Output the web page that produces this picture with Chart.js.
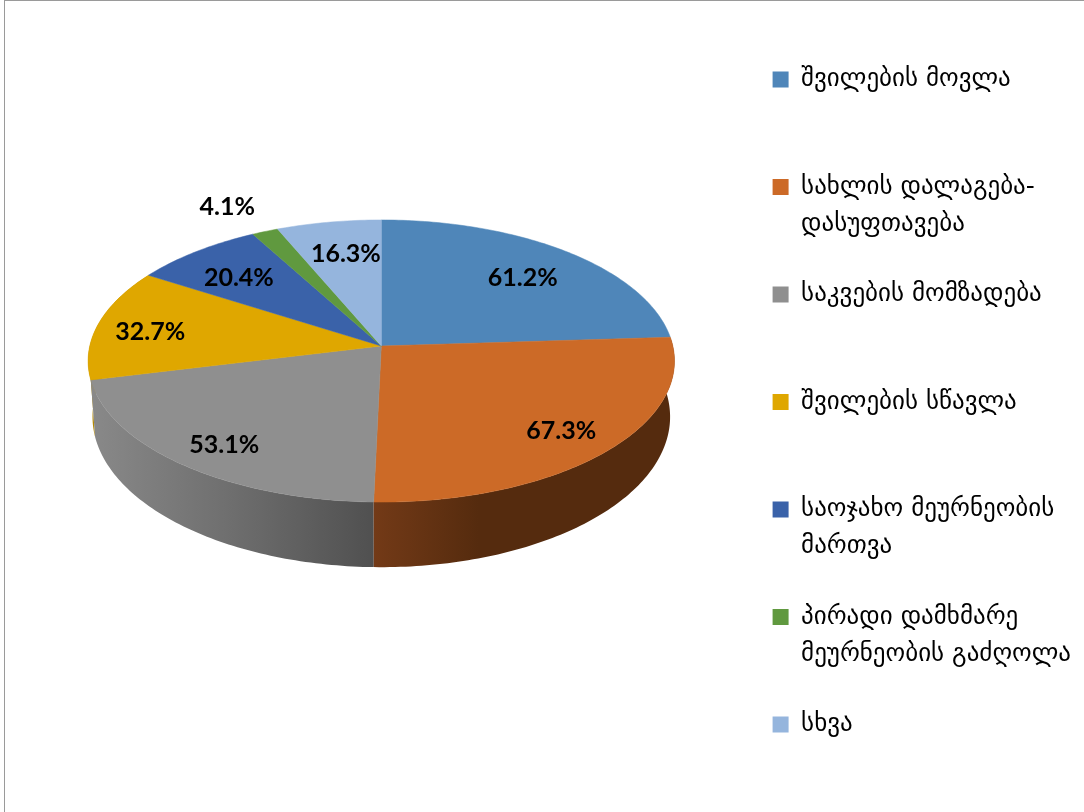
<!DOCTYPE html>
<html>
<head>
<meta charset="utf-8">
<script src="https://cdn.jsdelivr.net/npm/chart.js@4/dist/chart.umd.min.js"></script>
<style>
html,body{margin:0;padding:0;background:#fff;overflow:hidden}
#wrap{position:relative;width:1084px;height:812px}
#top{position:absolute;left:4px;top:0;right:0;height:1px;background:#9a9a9a}
#left{position:absolute;left:4px;top:0;bottom:0;width:1px;background:#9a9a9a}
</style>
</head>
<body>
<div id="wrap">
<canvas id="c" width="1084" height="812"></canvas>
<div id="top"></div><div id="left"></div>
</div>
<script>
const categories = [
  ['შვილების მოვლა',' '],
  ['სახლის დალაგება-','დასუფთავება'],
  ['საკვების მომზადება',' '],
  ['შვილების სწავლა',' '],
  ['საოჯახო მეურნეობის','მართვა'],
  ['პირადი დამხმარე','მეურნეობის გაძღოლა'],
  ['სხვა',' ']
];
const percents = [61.2, 67.3, 53.1, 32.7, 20.4, 4.1, 16.3];
const colors = ['#4f86b9','#cc6a27','#8f8f8f','#dfa700','#3a62a9','#60993f','#95b5dd'];
// side wall gradient stops (left, middle, right) for slices whose wall shows
const sideShades = {
  1: ['#733a17','#552b0e','#552b0e'],
  2: ['#898989','#6e6e6e','#505050'],
  3: ['#b58a05','#b58a05','#b58a05']
};
const labelNudges = [[0,4],[13,8.5],[-11,12],[-18,3],[-1,4],[-65,-51],[5,3]];

const perspective = {
  id: 'perspective',
  beforeDatasetDraw(chart, args, o) {
    const ctx = chart.ctx;
    const els = chart.getDatasetMeta(0).data;
    const top = (el, a, r = 1) => {
      const u = r * Math.cos(a), v = -r * Math.sin(a), w = 1 + o.tilt * v;
      return [el.x + el.outerRadius * o.kx * u / w,
              el.y + o.shiftY - el.outerRadius * o.ky * v / w];
    };
    const bottom = (el, a) => {
      const p = top(el, a);
      const py = el.y + o.shiftY;
      return [el.x + (p[0] - el.x) * o.wallX, py + o.depth + (p[1] - py) * o.wallY];
    };
    const arcPts = (el, fn) => {
      const n = Math.max(4, Math.ceil((el.endAngle - el.startAngle) * 60)), pts = [];
      for (let i = 0; i <= n; i++) pts.push(fn(el, el.startAngle + (el.endAngle - el.startAngle) * i / n));
      return pts;
    };
    ctx.save();
    // walls
    [3, 2, 1].forEach(i => {
      const el = els[i], t = arcPts(el, top), b = arcPts(el, bottom);
      const xs = t.concat(b).map(p => p[0]);
      const g = ctx.createLinearGradient(Math.min(...xs), 0, Math.max(...xs), 0);
      sideShades[i].forEach((c, k) => g.addColorStop(i === 1 ? [0, .35, 1][k] : k / 2, c));
      ctx.fillStyle = g;
      ctx.beginPath();
      t.forEach((p, k) => k ? ctx.lineTo(p[0], p[1]) : ctx.moveTo(p[0], p[1]));
      b.reverse().forEach(p => ctx.lineTo(p[0], p[1]));
      ctx.closePath();
      ctx.fill();
    });
    // top faces
    els.forEach((el, i) => {
      ctx.fillStyle = colors[i];
      ctx.strokeStyle = colors[i];
      ctx.lineWidth = 0.5;
      ctx.beginPath();
      ctx.moveTo(el.x, el.y + o.shiftY);
      arcPts(el, top).forEach(p => ctx.lineTo(p[0], p[1]));
      ctx.closePath();
      ctx.fill();
      ctx.stroke();
    });
    // value labels
    ctx.fillStyle = '#000';
    ctx.font = 'bold 25px Lato';
    ctx.textAlign = 'center';
    ctx.textBaseline = 'middle';
    els.forEach((el, i) => {
      const p = top(el, (el.startAngle + el.endAngle) / 2, 0.75);
      ctx.fillText(percents[i].toFixed(1) + '%', p[0] + labelNudges[i][0], p[1] + labelNudges[i][1]);
    });
    ctx.restore();
    return false;
  }
};

new Chart(document.getElementById('c'), {
  type: 'pie',
  data: {
    labels: categories,
    datasets: [{ data: percents, backgroundColor: colors, borderWidth: 0 }]
  },
  plugins: [perspective],
  options: {
    responsive: false,
    animation: false,
    radius: 293,
    layout: { padding: { left: 23, right: 3, top: 0, bottom: -7.5 } },
    plugins: {
      tooltip: { enabled: false },
      perspective: { kx: 0.995, ky: 0.476, tilt: 0.1064, shiftY: -60, depth: 54.8, wallX: 0.985, wallY: 1.066 },
      legend: {
        position: 'right',
        align: 'end',
        labels: {
          boxWidth: 16, boxHeight: 16, padding: 33, color: '#000',
          font: { family: '"DejaVu Sans"', size: 25, lineHeight: 1.49 }
        }
      }
    }
  }
});
</script>
</body>
</html>
